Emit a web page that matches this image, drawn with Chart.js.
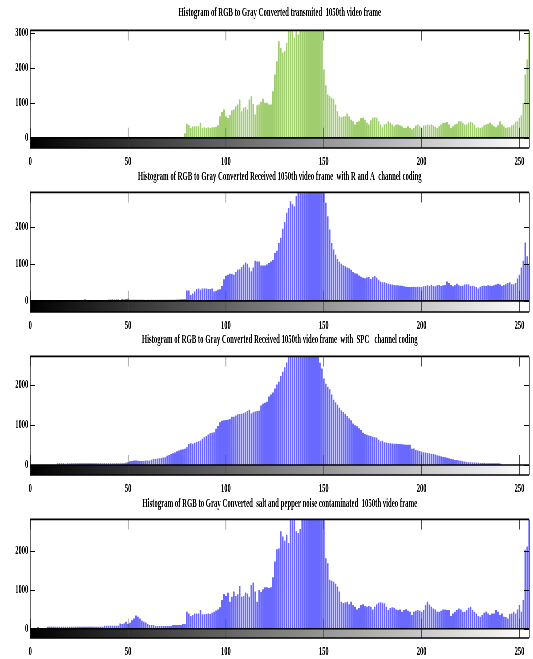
<!DOCTYPE html>
<html>
<head>
<meta charset="utf-8">
<script src="https://cdn.jsdelivr.net/npm/chart.js@4.4.0/dist/chart.umd.min.js"></script>
<style>
html, body { margin: 0; padding: 0; background: #fff; width: 533px; height: 659px; overflow: hidden; }
/* figure is drawn twice as wide, then squeezed back like the original image */
#wrap { position: absolute; left: 0; top: 0; width: 1066px; height: 659px; transform: scaleX(0.5); transform-origin: 0 0; }
.panel { position: absolute; left: 0; width: 1066px; }
canvas { display: block; }
</style>
</head>
<body>
<div id="wrap">
  <div class="panel" style="top:0px;height:165px"><canvas id="c1" width="1066" height="165"></canvas></div>
  <div class="panel" style="top:165px;height:165px"><canvas id="c2" width="1066" height="165"></canvas></div>
  <div class="panel" style="top:330px;height:163px"><canvas id="c3" width="1066" height="163"></canvas></div>
  <div class="panel" style="top:493px;height:166px"><canvas id="c4" width="1066" height="166"></canvas></div>
</div>
<script>
// gray levels 0..255 (x categories)
const levels = Array.from({ length: 256 }, (_, i) => i);
const xTicks = [0, 50, 100, 150, 200, 250];
const yTicks = [0, 1000, 2000, 3000];

const titles = [
    "Histogram of RGB to Gray Converted transmited  1050th video frame",
    "Histogram of RGB to Gray Converted Received 1050th video frame  with R and A  channel coding",
    "Histogram of RGB to Gray Converted Received 1050th video frame  with  SPC   channel coding",
    "Histogram of RGB to Gray Converted  salt and pepper noise contaminated  1050th video frame"
];

// pixel counts per gray level (bars above the top are clipped there)
const transmitted = [
    0,0,0,0,0,0,0,0,0,0,0,0,0,0,0,0,
    0,0,0,0,0,0,0,0,0,0,0,0,0,0,0,0,
    0,0,0,0,0,0,0,0,0,0,0,0,0,0,0,0,
    0,0,0,0,0,0,0,0,0,0,0,0,0,0,0,0,
    0,0,0,0,0,0,0,0,0,0,0,0,0,0,0,130,
    400,360,285,325,330,330,330,430,285,300,285,300,285,300,300,310,
    360,620,740,810,620,570,650,780,810,900,950,1095,760,860,880,810,
    1095,1190,970,670,930,950,1030,1120,1000,1000,950,950,1330,1810,2190,2760,
    2570,2430,2480,2710,3200,3200,3200,2860,3200,2950,3200,3200,3200,3200,3200,3200,
    3200,3200,3200,3200,3200,3200,1950,1500,1240,1190,1140,1100,950,760,620,590,
    610,620,690,620,520,475,380,450,476,570,571,520,430,380,500,571,
    590,571,476,380,300,380,400,475,430,380,330,380,380,360,333,285,
    285,333,285,240,285,350,380,333,285,350,362,380,362,380,362,315,
    285,333,380,430,430,450,380,285,333,380,400,476,476,430,380,380,
    430,457,430,380,285,305,285,305,362,380,400,430,380,333,305,362,
    476,380,333,285,305,305,362,380,457,476,571,648,1000,1810,2240,3200
];

const receivedRA = [
    0,0,0,0,0,0,0,0,0,0,0,0,0,0,0,0,
    0,0,0,0,0,0,0,0,0,0,0,0,40,0,0,0,
    0,0,0,0,0,0,0,0,35,35,40,35,35,40,0,50,
    40,50,55,30,30,30,30,30,30,30,30,0,30,30,30,30,
    30,30,30,30,30,30,30,30,30,30,30,35,35,40,40,50,
    280,280,160,200,250,320,330,300,330,330,330,320,320,330,250,270,
    300,310,400,585,675,700,730,720,700,780,840,850,910,970,1030,1000,
    900,800,900,1080,1060,1060,950,950,950,980,1020,1060,1100,1290,1350,1560,
    1700,1940,2120,2370,2500,2680,2600,2550,2820,3100,3100,3100,3100,3100,3100,3100,
    3100,3100,3100,3100,3100,3100,3100,2640,2280,1920,1560,1380,1240,1130,1050,1000,
    960,930,900,880,840,780,740,730,680,650,620,610,630,640,590,640,
    670,620,570,520,500,500,480,460,450,440,430,420,420,410,410,390,
    380,370,370,370,380,370,380,370,370,390,400,420,400,430,400,390,
    420,430,400,420,430,520,480,430,390,420,460,420,400,410,440,450,
    440,400,410,390,370,330,380,400,410,400,420,410,400,420,440,460,
    440,400,430,450,480,500,450,450,480,600,700,900,1080,1570,1200,1000
];

const receivedSPC = [
    0,0,0,0,0,0,0,0,0,0,0,0,0,0,40,40,
    40,40,30,40,40,40,40,40,40,40,40,40,40,40,40,40,
    40,40,40,40,40,40,40,40,40,40,40,40,40,40,40,40,
    45,55,70,90,100,110,110,105,100,100,100,110,110,110,130,150,
    145,160,165,175,185,190,230,250,270,290,310,340,360,375,390,400,
    440,520,540,530,550,570,590,610,650,690,720,760,790,800,815,900,
    970,1060,1100,1110,1120,1125,1140,1200,1200,1230,1260,1270,1275,1290,1310,1340,
    1375,1280,1310,1330,1340,1350,1480,1525,1550,1570,1700,1750,1800,1900,2000,2070,
    2210,2320,2430,2550,2900,2900,2900,2900,2900,2900,2900,2900,2900,2900,2900,2900,
    2900,2900,2900,2900,2540,2400,2150,2020,1940,1880,1750,1620,1560,1500,1420,1360,
    1320,1270,1220,1160,1110,1030,990,960,910,870,800,770,750,730,720,700,
    690,675,625,590,600,565,560,545,540,535,530,525,520,520,515,510,
    500,500,500,400,410,370,360,350,330,315,310,300,290,280,275,260,
    240,230,215,200,190,180,165,150,140,125,120,110,105,95,85,75,
    70,65,62,60,58,55,50,48,46,44,42,40,40,40,40,40,
    35,0,0,0,0,0,0,0,0,0,0,0,0,0,0,0
];

const saltPepper = [
    0,0,0,0,45,0,0,0,0,50,50,50,50,50,50,50,
    50,50,50,50,50,50,50,50,50,50,50,50,50,50,50,50,
    50,50,50,50,50,50,75,75,75,75,75,75,75,75,135,120,
    135,180,120,155,220,265,340,310,260,205,180,160,120,95,95,95,
    70,70,70,70,70,70,70,70,70,95,95,95,95,95,120,120,
    435,390,325,350,390,390,390,480,370,370,380,390,380,410,435,470,
    490,550,735,890,840,920,690,820,950,840,880,1095,820,840,925,900,
    820,1120,1180,950,690,990,940,1010,1060,1060,1040,1060,1320,1720,2030,2050,
    2490,2360,2250,2400,2190,3000,3000,3000,2490,2450,2550,3000,3000,3000,3000,3000,
    3000,3000,3000,3000,3000,3000,3000,1800,1675,1250,1230,1200,1150,1080,950,690,
    660,670,690,630,690,605,565,495,530,605,630,580,565,580,565,495,
    565,630,665,680,665,650,565,480,530,550,540,495,480,495,435,480,
    500,460,435,350,435,460,480,460,435,480,605,690,620,565,520,495,
    435,435,460,495,495,480,480,325,390,435,480,520,495,435,435,480,
    540,565,480,435,390,325,310,350,410,435,390,350,390,390,480,435,
    350,390,310,300,265,380,390,435,390,495,605,435,735,2020,2100,3000
];

const GREEN = 'rgb(160,206,110)';
const BLUE = 'rgb(105,105,255)';
const FONT = 'Liberation Serif';

// colour ramp under the bars, frame and inward tick marks (matlab imhist look)
const histFrame = {
    id: 'histFrame',
    beforeDatasetsDraw(chart) {
        const { ctx, chartArea: a, scales: { x, y } } = chart;
        const y0 = y.getPixelForValue(0);
        const g = ctx.createLinearGradient(x.getPixelForValue(0), 0, x.getPixelForValue(255), 0);
        g.addColorStop(0, '#000');
        g.addColorStop(1, '#fff');
        ctx.save();
        ctx.fillStyle = g;
        ctx.fillRect(a.left, y0, a.right - a.left, a.bottom - y0);
        ctx.restore();
    },
    afterDatasetsDraw(chart) {
        const { ctx, chartArea: a, scales: { x, y } } = chart;
        const y0 = y.getPixelForValue(0);
        ctx.save();
        ctx.strokeStyle = '#444';
        ctx.lineWidth = 1.4;
        x.ticks.forEach(t => {
            const px = x.getPixelForValue(t.value);
            ctx.beginPath();
            ctx.moveTo(px, a.top);
            ctx.lineTo(px, a.top + 10);
            ctx.moveTo(px, a.bottom);
            ctx.lineTo(px, y0 - 10);
            ctx.stroke();
        });
        ctx.strokeStyle = '#000';
        ctx.lineWidth = 1;
        y.ticks.forEach(t => {
            const py = Math.round(y.getPixelForValue(t.value)) + 0.5;
            ctx.beginPath();
            ctx.moveTo(a.left, py);
            ctx.lineTo(a.left + 10, py);
            ctx.moveTo(a.right - 10, py);
            ctx.lineTo(a.right, py);
            ctx.stroke();
        });
        // box
        ctx.lineWidth = 1.2;
        ctx.beginPath();
        ctx.moveTo(a.left, a.top);
        ctx.lineTo(a.left, a.bottom);
        ctx.moveTo(a.right, a.top);
        ctx.lineTo(a.right, a.bottom);
        ctx.stroke();
        ctx.lineWidth = 1.6;
        ctx.beginPath();
        ctx.moveTo(a.left, a.top);
        ctx.lineTo(a.right, a.top);
        ctx.moveTo(a.left, y0);
        ctx.lineTo(a.right, y0);
        ctx.moveTo(a.left, a.bottom);
        ctx.lineTo(a.right, a.bottom);
        ctx.stroke();
        ctx.restore();
    }
};

const panels = [
    { id: 'c1', values: transmitted, color: GREEN, title: titles[0], ymin: -290, ymax: 3070, tTop: 4.6, tBottom: 9.6, xH: 17 },
    { id: 'c2', values: receivedRA, color: BLUE, title: titles[1], ymin: -300, ymax: 2920, tTop: 3.6, tBottom: 7.6, xH: 18 },
    { id: 'c3', values: receivedSPC, color: BLUE, title: titles[2], ymin: -250, ymax: 2700, tTop: 1.6, tBottom: 8.6, xH: 18 },
    { id: 'c4', values: saltPepper, color: BLUE, title: titles[3], ymin: -235, ymax: 2795, tTop: 2.6, tBottom: 7.6, xH: 21 }
];

function makeChart(p) {
    const tickFont = { family: FONT, size: 13, weight: 'bold' };
    return new Chart(document.getElementById(p.id), {
        type: 'bar',
        data: {
            labels: levels,
            datasets: [{
                data: p.values,
                backgroundColor: p.color,
                borderWidth: 0,
                barPercentage: 1,
                categoryPercentage: 0.85,
                clip: 0
            }]
        },
        options: {
            responsive: false,
            animation: false,
            events: [],
            layout: { padding: { left: 0, right: 8, top: 0, bottom: 0 } },
            plugins: {
                legend: { display: false },
                tooltip: { enabled: false },
                title: {
                    display: true,
                    text: p.title,
                    fullSize: false,
                    color: '#000',
                    font: { family: FONT, size: 13.5, weight: 'bold', lineHeight: 1.2 },
                    padding: { top: p.tTop, bottom: p.tBottom }
                }
            },
            scales: {
                x: {
                    type: 'linear',
                    min: 0,
                    max: 255,
                    offset: false,
                    grid: { display: false, drawTicks: false },
                    border: { display: false },
                    ticks: { padding: 6, color: '#000', font: tickFont, maxRotation: 0, autoSkip: false },
                    afterBuildTicks(s) { s.ticks = xTicks.map(v => ({ value: v })); },
                    afterFit(s) { s.height = p.xH; }
                },
                y: {
                    min: p.ymin,
                    max: p.ymax,
                    grid: { display: false, drawTicks: false },
                    border: { display: false },
                    ticks: { padding: 4, color: '#000', font: tickFont, autoSkip: false, callback: v => String(v) },
                    afterBuildTicks(s) { s.ticks = yTicks.filter(v => v <= s.max).map(v => ({ value: v })); },
                    afterFit(s) { s.width = 60; }
                }
            }
        },
        plugins: [histFrame]
    });
}

panels.forEach(makeChart);
</script>
</body>
</html>
